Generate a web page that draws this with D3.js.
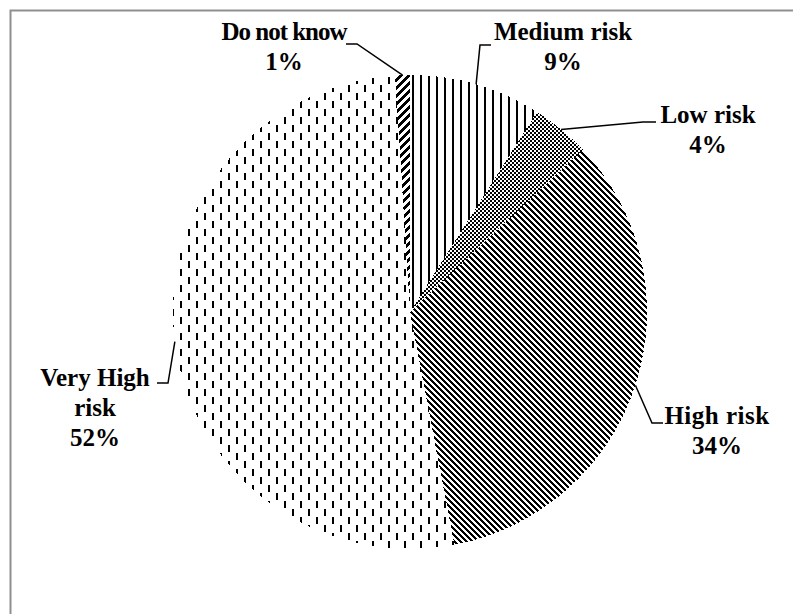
<!DOCTYPE html>
<html>
<head>
<meta charset="utf-8">
<script src="https://cdn.jsdelivr.net/npm/d3@7"></script>
<style>
  html, body { margin: 0; padding: 0; background: #fff; }
  svg { display: block; }
</style>
</head>
<body>
<script>
// Risk assessment shares (percent), drawn clockwise from 12 o'clock
const categories = ["Medium risk", "Low risk", "High risk", "Very High risk", "Do not know"];
const values = [9, 4, 34, 52, 1];
// Text lines shown for each slice label
const labelLines = [
  ["Medium risk", "9%"],
  ["Low risk", "4%"],
  ["High risk", "34%"],
  ["Very High", "risk", "52%"],
  ["Do not know", "1%"]
];

const W = 793, H = 614;
const cx = 410, cy = 312, R = 237;
const FONT = "'Liberation Serif', 'Times New Roman', Tinos, 'DejaVu Serif', serif";

// Label placement: text centre x, first baseline y, leader elbow and end,
// and letter spacing for the first line
const labelLayout = [
  { tx: 563, ty: 40,  elbow: [480, 45],  end: [491, 45],  spacing: 0 },
  { tx: 708, ty: 123, elbow: [643, 122], end: [656, 122], spacing: 0 },
  { tx: 717, ty: 424, elbow: [652, 423], end: [663, 423], spacing: 0.5 },
  { tx: 95,  ty: 386, elbow: [168, 383], end: [157, 383], spacing: 0 },
  { tx: 284, ty: 40,  elbow: [357, 44],  end: [346, 44],  spacing: -1 }
];
const lineHeight = 30;

const svg = d3.select("body").append("svg")
  .attr("width", W).attr("height", H);

const defs = svg.append("defs");

// Pixel-grid pattern helper: fills black cells where test(x, y) is true
function pixelPattern(id, size, test, ox = 0, oy = 0) {
  const p = defs.append("pattern")
    .attr("id", id)
    .attr("patternUnits", "userSpaceOnUse")
    .attr("x", ox).attr("y", oy)
    .attr("width", size).attr("height", size);
  p.append("rect").attr("width", size).attr("height", size).attr("fill", "#fff");
  for (let y = 0; y < size; y++) {
    for (let x = 0; x < size; x++) {
      if (test(x, y)) {
        p.append("rect").attr("x", x).attr("y", y)
          .attr("width", 1).attr("height", 1).attr("fill", "#000");
      }
    }
  }
  return p;
}

// Medium: narrow vertical lines
pixelPattern("pat-medium", 8, (x) => x >= 2 && x < 4);
// Low: small checkerboard
pixelPattern("pat-low", 4, (x, y) => ((Math.floor(x / 2) + Math.floor(y / 2)) % 2) === 0);
// High: downward diagonal stripes
pixelPattern("pat-high", 6, (x, y) => ((x - y + 60) % 6) < 3);
// Do not know: wide upward diagonal stripes
pixelPattern("pat-dnk", 8, (x, y) => ((x + y) % 8) < 4);
// Very High: staggered vertical dashes
(function () {
  const p = defs.append("pattern")
    .attr("id", "pat-vhigh")
    .attr("patternUnits", "userSpaceOnUse")
    .attr("x", 2).attr("y", 13)
    .attr("width", 16).attr("height", 16);
  p.append("rect").attr("width", 16).attr("height", 16).attr("fill", "#fff");
  p.append("rect").attr("x", 0).attr("y", 0).attr("width", 2).attr("height", 7).attr("fill", "#000");
  p.append("rect").attr("x", 8).attr("y", 8).attr("width", 2).attr("height", 7).attr("fill", "#000");
})();

const fills = ["url(#pat-medium)", "url(#pat-low)", "url(#pat-high)", "url(#pat-vhigh)", "url(#pat-dnk)"];

// Chart area frame
svg.append("rect")
  .attr("x", 10.5).attr("y", 10.5)
  .attr("width", W + 20).attr("height", H + 20)
  .attr("fill", "none")
  .attr("stroke", "#8f8f8f")
  .attr("stroke-width", 2);

const pie = d3.pie().sort(null).value(d => d)(values);
const arc = d3.arc().innerRadius(0).outerRadius(R);

const g = svg.append("g").attr("transform", `translate(${cx},${cy})`);

g.selectAll("path.slice")
  .data(pie)
  .join("path")
  .attr("class", "slice")
  .attr("d", arc)
  .attr("fill", (d, i) => fills[i])
  .attr("shape-rendering", "crispEdges");

// Leader lines from each slice's outer mid-point to its label
pie.forEach((d, i) => {
  const a = (d.startAngle + d.endAngle) / 2;
  const sx = cx + R * Math.sin(a);
  const sy = cy - R * Math.cos(a);
  const L = labelLayout[i];
  svg.append("path")
    .attr("d", d3.line()([[sx, sy], L.elbow, L.end]))
    .attr("fill", "none")
    .attr("stroke", "#000")
    .attr("stroke-width", 1.5);
});

// Labels
labelLines.forEach((lines, i) => {
  const L = labelLayout[i];
  const t = svg.append("text")
    .attr("text-anchor", "middle")
    .attr("font-family", FONT)
    .attr("font-weight", "bold")
    .attr("font-size", 25)
    .style("font-family", FONT)
    .attr("fill", "#000");
  lines.forEach((s, k) => {
    t.append("tspan")
      .attr("x", L.tx)
      .attr("y", L.ty + k * lineHeight)
      .attr("letter-spacing", k === 0 ? L.spacing : 0)
      .text(s);
  });
});
</script>
</body>
</html>
